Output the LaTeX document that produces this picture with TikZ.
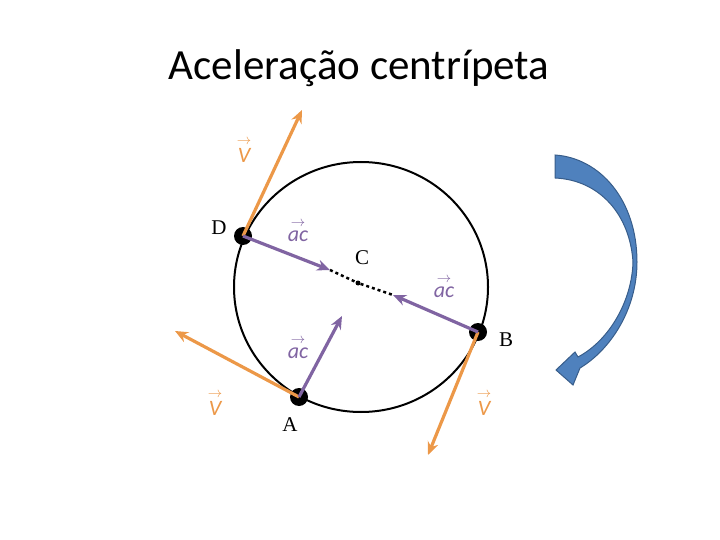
\documentclass[tikz,border=0pt]{standalone}
\usepackage{amsmath}
\usepackage{fontspec}
\setmainfont{Carlito}
\newfontfamily\seriffont{Liberation Serif}
\usetikzlibrary{arrows.meta}
\definecolor{vel}{RGB}{236,152,72}
\definecolor{acc}{RGB}{128,100,162}
\definecolor{blu}{RGB}{79,129,189}
\definecolor{bluedge}{RGB}{56,93,138}
\tikzset{
 velarrow/.style={vel,line width=3.2pt,-{Stealth[length=13pt,width=11pt]}},
 accarrow/.style={acc,line width=3.2pt,-{Stealth[length=13pt,width=11pt]}},
 pt/.style={circle,fill=black,inner sep=0pt,minimum size=18pt},
 vlab/.style={vel,font=\fontsize{22}{22}\selectfont},
 alab/.style={acc,font=\fontsize{22}{22}\selectfont},
 plab/.style={font=\fontsize{21}{21}\selectfont\seriffont}
}
\newcommand{\vv}[1]{$\overset{\rightarrow}{\mathit{#1}}$}
\begin{document}
\begin{tikzpicture}[x=1pt,y=-1pt]
\useasboundingbox (0,0) rectangle (720,540);
\node[font=\fontsize{43}{43}\selectfont] (title) at (359,68) {Aceleração centrípeta};
\draw[line width=2pt] (361,287) ellipse [x radius=127, y radius=125];
\node[pt] (D) at (243,236) {};
\node[pt] (B) at (478,332) {};
\node[pt] (A) at (299,397) {};
\node[circle,fill=black,inner sep=0pt,minimum size=5pt] (C) at (358,283) {};
\coordinate (dv) at (302,110);
\coordinate (av) at (175,331);
\coordinate (bv) at (428,455);
\coordinate (da) at (330,270);
\coordinate (ba) at (393,295);
\coordinate (aa) at (342,316);
\draw[line width=2.5pt,dash pattern=on 3pt off 3pt] (da) -- (C) -- (ba);
\draw[velarrow] (D.center) -- (dv);
\draw[velarrow] (A.center) -- (av);
\draw[velarrow] (B.center) -- (bv);
\draw[accarrow] (D.center) -- (da);
\draw[accarrow] (B.center) -- (ba);
\draw[accarrow] (A.center) -- (aa);
\node[plab] (Dl) at (219,228) {D};
\node[plab] (Cl) at (362,258) {C};
\node[plab] (Bl) at (506,340) {B};
\node[plab] (Al) at (290,425) {A};
\node[vlab] (v1) at (244,150) {\vv{V}};
\node[vlab] (v2) at (215,403) {\vv{V}};
\node[vlab] (v3) at (484,403) {\vv{V}};
\node[alab] (a1) at (298,230) {\vv{ac}};
\node[alab] (a2) at (444,286) {\vv{ac}};
\node[alab] (a3) at (298,347) {\vv{ac}};
\filldraw[fill=blu,draw=bluedge,line width=1pt] (555,155) .. controls (600,158) and (637,200) .. (637,262) .. controls (637,310) and (610,350) .. (580,368) -- (573,385) -- (556,370) -- (575,352) -- (578,357) .. controls (610,340) and (632,300) .. (633,262) .. controls (630,215) and (600,180) .. (555,178) -- cycle;
\end{tikzpicture}
\end{document}
